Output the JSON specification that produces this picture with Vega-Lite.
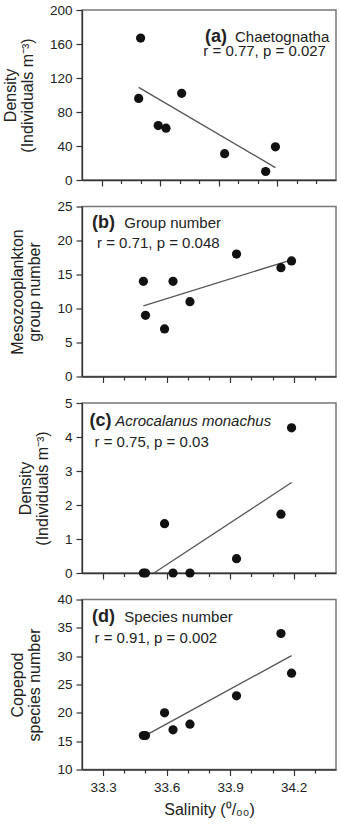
{
  "$schema": "https://vega.github.io/schema/vega-lite/v6.json",
  "padding": {"top": 2, "left": 1, "right": 0, "bottom": 0},
  "background": "white",
  "spacing": 10.5,
  "datasets": {
    "stations": [
      {"salinity": 33.49, "chaetognatha": 96, "groups": 14, "acrocalanus": 0, "copepods": 16},
      {"salinity": 33.50, "chaetognatha": 167, "groups": 9, "acrocalanus": 0, "copepods": 16},
      {"salinity": 33.59, "chaetognatha": 64, "groups": 7, "acrocalanus": 1.45, "copepods": 20},
      {"salinity": 33.63, "chaetognatha": 61, "groups": 14, "acrocalanus": 0, "copepods": 17},
      {"salinity": 33.71, "chaetognatha": 102, "groups": 11, "acrocalanus": 0, "copepods": 18},
      {"salinity": 33.93, "chaetognatha": 31, "groups": 18, "acrocalanus": 0.42, "copepods": 23},
      {"salinity": 34.14, "chaetognatha": 10, "groups": 16, "acrocalanus": 1.73, "copepods": 34},
      {"salinity": 34.19, "chaetognatha": 39, "groups": 17, "acrocalanus": 4.27, "copepods": 27}
    ],
    "fits": [
      {"panel": "a", "salinity": 33.49, "value": 109},
      {"panel": "a", "salinity": 34.19, "value": 14.5},
      {"panel": "b", "salinity": 33.49, "value": 10.4},
      {"panel": "b", "salinity": 34.19, "value": 17.15},
      {"panel": "c", "salinity": 33.54, "value": 0},
      {"panel": "c", "salinity": 34.19, "value": 2.66},
      {"panel": "d", "salinity": 33.49, "value": 15.8},
      {"panel": "d", "salinity": 34.19, "value": 30.1}
    ],
    "notes": [
      {"key": "a_tag", "text": "(a)"},
      {"key": "a_name", "text": "Chaetognatha"},
      {"key": "a_stat", "text": "r = 0.77, p = 0.027"},
      {"key": "b_tag", "text": "(b)"},
      {"key": "b_name", "text": "Group number"},
      {"key": "b_stat", "text": "r = 0.71, p = 0.048"},
      {"key": "c_tag", "text": "(c)"},
      {"key": "c_name", "text": "Acrocalanus monachus"},
      {"key": "c_stat", "text": "r = 0.75, p = 0.03"},
      {"key": "d_tag", "text": "(d)"},
      {"key": "d_name", "text": "Species number"},
      {"key": "d_stat", "text": "r = 0.91, p = 0.002"}
    ]
  },
  "vconcat": [
    {
      "width": 254,
      "height": 170,
      "layer": [
        {
          "data": {"name": "fits"},
          "transform": [{"filter": "datum.panel == 'a'"}],
          "mark": {"type": "line", "color": "#555", "strokeWidth": 1.3},
          "encoding": {
            "x": {"field": "salinity", "type": "quantitative", "title": null,
              "scale": {"domain": [33.2, 34.5], "nice": false, "zero": false},
              "axis": {"values": [33.3, 33.4, 33.5, 33.6, 33.7, 33.8, 33.9, 34.0, 34.1, 34.2, 34.3, 34.4], "tickCount": 50, "labels": false,
                "tickSize": {"condition": {"test": "round(datum.value * 10) % 3 == 0", "value": 6}, "value": 3.5}}},
            "y": {"field": "value", "type": "quantitative", "title": ["Density", "(Individuals m⁻³)"],
              "scale": {"domain": [0, 200], "nice": false},
              "axis": {"values": [0, 40, 80, 120, 160, 200], "tickCount": 50, "format": "d"}}
          }
        },
        {
          "data": {"name": "stations"},
          "mark": {"type": "circle", "size": 85, "color": "#111", "opacity": 1},
          "encoding": {
            "x": {"field": "salinity", "type": "quantitative", "title": null},
            "y": {"field": "chaetognatha", "type": "quantitative", "title": ["Density", "(Individuals m⁻³)"]}
          }
        },
        {
          "data": {"name": "notes"},
          "transform": [{"filter": "datum.key == 'a_tag'"}],
          "mark": {"type": "text", "align": "left", "baseline": "alphabetic", "fontSize": 18, "fontWeight": "bold", "color": "#222"},
          "encoding": {"x": {"datum": 33.83, "type": "quantitative"}, "y": {"datum": 161.8, "type": "quantitative"}, "text": {"field": "text"}}
        },
        {
          "data": {"name": "notes"},
          "transform": [{"filter": "datum.key == 'a_name'"}],
          "mark": {"type": "text", "align": "left", "baseline": "alphabetic", "fontSize": 15, "color": "#222"},
          "encoding": {"x": {"datum": 33.983, "type": "quantitative"}, "y": {"datum": 161.8, "type": "quantitative"}, "text": {"field": "text"}}
        },
        {
          "data": {"name": "notes"},
          "transform": [{"filter": "datum.key == 'a_stat'"}],
          "mark": {"type": "text", "align": "left", "baseline": "alphabetic", "fontSize": 15, "color": "#222"},
          "encoding": {"x": {"datum": 33.821, "type": "quantitative"}, "y": {"datum": 146.1, "type": "quantitative"}, "text": {"field": "text"}}
        }
      ]
    },
    {
      "width": 254,
      "height": 170,
      "layer": [
        {
          "data": {"name": "fits"},
          "transform": [{"filter": "datum.panel == 'b'"}],
          "mark": {"type": "line", "color": "#555", "strokeWidth": 1.3},
          "encoding": {
            "x": {"field": "salinity", "type": "quantitative", "title": null,
              "scale": {"domain": [33.2, 34.4], "nice": false, "zero": false},
              "axis": {"values": [33.3, 33.4, 33.5, 33.6, 33.7, 33.8, 33.9, 34.0, 34.1, 34.2, 34.3], "tickCount": 50, "labels": false,
                "tickSize": {"condition": {"test": "round(datum.value * 10) % 3 == 0", "value": 6}, "value": 3.5}}},
            "y": {"field": "value", "type": "quantitative", "title": ["Mesozooplankton", "group number"],
              "scale": {"domain": [0, 25], "nice": false},
              "axis": {"values": [0, 5, 10, 15, 20, 25], "tickCount": 50, "format": "d"}}
          }
        },
        {
          "data": {"name": "stations"},
          "mark": {"type": "circle", "size": 85, "color": "#111", "opacity": 1},
          "encoding": {
            "x": {"field": "salinity", "type": "quantitative", "title": null},
            "y": {"field": "groups", "type": "quantitative", "title": ["Mesozooplankton", "group number"]}
          }
        },
        {
          "data": {"name": "notes"},
          "transform": [{"filter": "datum.key == 'b_tag'"}],
          "mark": {"type": "text", "align": "left", "baseline": "alphabetic", "fontSize": 18, "fontWeight": "bold", "color": "#222"},
          "encoding": {"x": {"datum": 33.247, "type": "quantitative"}, "y": {"datum": 21.86, "type": "quantitative"}, "text": {"field": "text"}}
        },
        {
          "data": {"name": "notes"},
          "transform": [{"filter": "datum.key == 'b_name'"}],
          "mark": {"type": "text", "align": "left", "baseline": "alphabetic", "fontSize": 15, "color": "#222"},
          "encoding": {"x": {"datum": 33.4, "type": "quantitative"}, "y": {"datum": 21.86, "type": "quantitative"}, "text": {"field": "text"}}
        },
        {
          "data": {"name": "notes"},
          "transform": [{"filter": "datum.key == 'b_stat'"}],
          "mark": {"type": "text", "align": "left", "baseline": "alphabetic", "fontSize": 15, "color": "#222"},
          "encoding": {"x": {"datum": 33.271, "type": "quantitative"}, "y": {"datum": 18.92, "type": "quantitative"}, "text": {"field": "text"}}
        }
      ]
    },
    {
      "width": 254,
      "height": 170,
      "layer": [
        {
          "data": {"name": "fits"},
          "transform": [{"filter": "datum.panel == 'c'"}],
          "mark": {"type": "line", "color": "#555", "strokeWidth": 1.3},
          "encoding": {
            "x": {"field": "salinity", "type": "quantitative", "title": null,
              "scale": {"domain": [33.2, 34.4], "nice": false, "zero": false},
              "axis": {"values": [33.3, 33.4, 33.5, 33.6, 33.7, 33.8, 33.9, 34.0, 34.1, 34.2, 34.3], "tickCount": 50, "labels": false,
                "tickSize": {"condition": {"test": "round(datum.value * 10) % 3 == 0", "value": 6}, "value": 3.5}}},
            "y": {"field": "value", "type": "quantitative", "title": ["Density", "(Individuals m⁻³)"],
              "scale": {"domain": [0, 5], "nice": false},
              "axis": {"values": [0, 1, 2, 3, 4, 5], "tickCount": 50, "format": "d"}}
          }
        },
        {
          "data": {"name": "stations"},
          "mark": {"type": "circle", "size": 85, "color": "#111", "opacity": 1},
          "encoding": {
            "x": {"field": "salinity", "type": "quantitative", "title": null},
            "y": {"field": "acrocalanus", "type": "quantitative", "title": ["Density", "(Individuals m⁻³)"]}
          }
        },
        {
          "data": {"name": "notes"},
          "transform": [{"filter": "datum.key == 'c_tag'"}],
          "mark": {"type": "text", "align": "left", "baseline": "alphabetic", "fontSize": 18, "fontWeight": "bold", "color": "#222"},
          "encoding": {"x": {"datum": 33.236, "type": "quantitative"}, "y": {"datum": 4.333, "type": "quantitative"}, "text": {"field": "text"}}
        },
        {
          "data": {"name": "notes"},
          "transform": [{"filter": "datum.key == 'c_name'"}],
          "mark": {"type": "text", "align": "left", "baseline": "alphabetic", "fontSize": 15, "fontStyle": "italic", "color": "#222"},
          "encoding": {"x": {"datum": 33.357, "type": "quantitative"}, "y": {"datum": 4.333, "type": "quantitative"}, "text": {"field": "text"}}
        },
        {
          "data": {"name": "notes"},
          "transform": [{"filter": "datum.key == 'c_stat'"}],
          "mark": {"type": "text", "align": "left", "baseline": "alphabetic", "fontSize": 15, "color": "#222"},
          "encoding": {"x": {"datum": 33.259, "type": "quantitative"}, "y": {"datum": 3.72, "type": "quantitative"}, "text": {"field": "text"}}
        }
      ]
    },
    {
      "width": 254,
      "height": 170,
      "layer": [
        {
          "data": {"name": "fits"},
          "transform": [{"filter": "datum.panel == 'd'"}],
          "mark": {"type": "line", "color": "#555", "strokeWidth": 1.3},
          "encoding": {
            "x": {"field": "salinity", "type": "quantitative", "title": "Salinity (⁰/₀₀)",
              "scale": {"domain": [33.2, 34.4], "nice": false, "zero": false},
              "axis": {"values": [33.3, 33.4, 33.5, 33.6, 33.7, 33.8, 33.9, 34.0, 34.1, 34.2, 34.3], "tickCount": 50,
                "labelExpr": "round(datum.value * 10) % 3 == 0 ? format(datum.value, '.1f') : ''",
                "labelFlush": false,
                "tickSize": {"condition": {"test": "round(datum.value * 10) % 3 == 0", "value": 6}, "value": 3.5}}},
            "y": {"field": "value", "type": "quantitative", "title": ["Copepod", "species number"],
              "scale": {"domain": [10, 40], "nice": false, "zero": false},
              "axis": {"values": [10, 15, 20, 25, 30, 35, 40], "tickCount": 50, "format": "d"}}
          }
        },
        {
          "data": {"name": "stations"},
          "mark": {"type": "circle", "size": 85, "color": "#111", "opacity": 1},
          "encoding": {
            "x": {"field": "salinity", "type": "quantitative", "title": "Salinity (⁰/₀₀)"},
            "y": {"field": "copepods", "type": "quantitative", "title": ["Copepod", "species number"]}
          }
        },
        {
          "data": {"name": "notes"},
          "transform": [{"filter": "datum.key == 'd_tag'"}],
          "mark": {"type": "text", "align": "left", "baseline": "alphabetic", "fontSize": 18, "fontWeight": "bold", "color": "#222"},
          "encoding": {"x": {"datum": 33.247, "type": "quantitative"}, "y": {"datum": 35.98, "type": "quantitative"}, "text": {"field": "text"}}
        },
        {
          "data": {"name": "notes"},
          "transform": [{"filter": "datum.key == 'd_name'"}],
          "mark": {"type": "text", "align": "left", "baseline": "alphabetic", "fontSize": 15, "color": "#222"},
          "encoding": {"x": {"datum": 33.4, "type": "quantitative"}, "y": {"datum": 35.98, "type": "quantitative"}, "text": {"field": "text"}}
        },
        {
          "data": {"name": "notes"},
          "transform": [{"filter": "datum.key == 'd_stat'"}],
          "mark": {"type": "text", "align": "left", "baseline": "alphabetic", "fontSize": 15, "color": "#222"},
          "encoding": {"x": {"datum": 33.259, "type": "quantitative"}, "y": {"datum": 32.31, "type": "quantitative"}, "text": {"field": "text"}}
        }
      ]
    }
  ],
  "config": {
    "font": "Liberation Sans",
    "view": {"stroke": "#777", "strokeWidth": 1.5},
    "axis": {
      "grid": false,
      "labelOverlap": false,
      "domainColor": "#333",
      "domainWidth": 1.3,
      "tickColor": "#333",
      "tickWidth": 1.2,
      "labelFont": "Liberation Sans",
      "labelFontSize": 13.5,
      "labelColor": "#222",
      "titleFont": "Liberation Sans",
      "titleFontSize": 16,
      "titleFontWeight": "normal",
      "titleColor": "#222",
      "titleLineHeight": 17
    },
    "axisY": {"tickSize": 6, "labelPadding": 4, "titlePadding": 14},
    "axisX": {"labelPadding": 5, "titlePadding": 7}
  }
}
